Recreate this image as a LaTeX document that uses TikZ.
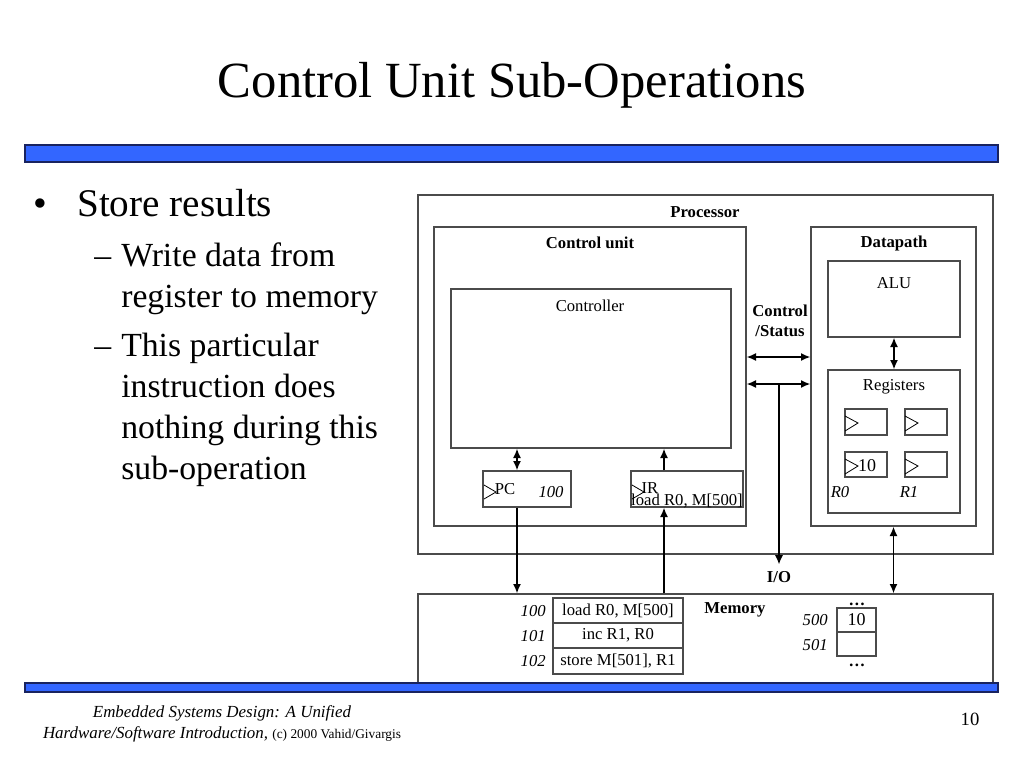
\documentclass[tikz,border=0pt]{standalone}
\usepackage{fontspec}
\setmainfont{Liberation Serif}
\usetikzlibrary{arrows.meta,fit}
\definecolor{barblue}{RGB}{51,102,255}
\definecolor{baredge}{RGB}{25,35,95}
\definecolor{boxgray}{RGB}{75,75,75}
\begin{document}
\begin{tikzpicture}[x=0.75pt,y=-0.75pt,
  box/.style={draw=boxgray, line width=1pt, inner sep=0pt, fit={#1}},
  lbl/.style={font=\fontsize{12.5}{15}\selectfont, inner sep=0pt},
  blbl/.style={font=\fontsize{12.5}{15}\selectfont\bfseries, inner sep=0pt},
  ilbl/.style={font=\fontsize{12.5}{15}\selectfont\itshape, inner sep=0pt},
  dar/.style={{Latex[length=7pt,width=6pt]}-{Latex[length=7pt,width=6pt]}, line width=1.1pt},
  sar/.style={-{Latex[length=7pt,width=6pt]}, line width=1.1pt},
  bar/.style={fill=barblue, draw=baredge, line width=1pt, inner sep=0pt, fit={#1}},
  clk/.style={draw=black, line width=0.6pt},
  big/.style={font=\fontsize{29.4}{30}\selectfont, inner sep=0pt, anchor=base west},
  sub/.style={font=\fontsize{25.3}{26}\selectfont, inner sep=0pt, anchor=base west}
]
\fill[white] (0,0) rectangle (1024,768);
\useasboundingbox (0,0) rectangle (1024,768);

% title
\node[anchor=base, inner sep=0pt, font=\fontsize{38}{40}\selectfont] (title) at (512,97) {Control Unit Sub-Operations};
\node[bar={(25,145) (998,162)}] (topbar) {};

% bullets
\node[big] (bul) at (33,216) {•};
\node[big] (b1) at (77,216) {Store results};
\node[sub] (d1) at (94,266) {–};
\node[sub] (s1) at (121,266) {Write data from};
\node[sub] (s2) at (121,307) {register to memory};
\node[sub] (d2) at (94,356) {–};
\node[sub] (s3) at (121,356) {This particular};
\node[sub] (s4) at (121,397) {instruction does};
\node[sub] (s5) at (121,438) {nothing during this};
\node[sub] (s6) at (121,479) {sub-operation};

% processor
\node[box={(418,195) (993,554)}] (proc) {};
\node[blbl] (procl) at (705,212) {Processor};
\node[box={(434,227) (746,526)}] (cu) {};
\node[blbl] (cul) at (590,243) {Control unit};
\node[box={(451,289) (731,448)}] (ctrl) {};
\node[lbl] (ctrll) at (590,306) {Controller};

\node[box={(483,471) (571,507)}] (pc) {};
\draw[clk] (484,485) -- (496,492) -- (484,499);
\node[lbl] (pcl) at (505,489) {PC};
\node[ilbl] (pcv) at (551,492) {100};

\node[box={(631,471) (743,507)}] (ir) {};
\draw[clk] (632,485) -- (644,492) -- (632,499);
\node[lbl] (irl) at (650,488) {IR};
\node[lbl] (irv) at (687,501) {load R0, M[500]};

% datapath
\node[box={(811,227) (976,526)}] (dp) {};
\node[blbl] (dpl) at (894,243) {Datapath};
\node[box={(828,261) (960,337)}] (alu) {};
\node[lbl] (alul) at (894,283) {ALU};
\node[box={(828,370) (960,513)}] (regs) {};
\node[lbl] (regsl) at (894,387) {Registers};
\node[box={(845,409) (887,435)}] (r00) {};
\node[box={(905,409) (947,435)}] (r01) {};
\node[box={(845,452) (887,477)}] (r10) {};
\node[box={(905,452) (947,477)}] (r11) {};
\draw[clk] (845,416) -- (858,423) -- (845,431);
\draw[clk] (905,416) -- (918,423) -- (905,431);
\draw[clk] (845,459) -- (858,466) -- (845,474);
\draw[clk] (905,459) -- (918,466) -- (905,474);
\node[font=\fontsize{13.5}{15}\selectfont, inner sep=0pt] (r0v) at (867,466) {10};
\node[ilbl] (r0l) at (840,492) {R0};
\node[ilbl] (r1l) at (909,492) {R1};

\node[blbl, align=center] (cs) at (780,321) {Control\\/Status};

% memory
\node[box={(418,594) (993,690)}] (mem) {};
\node[blbl] (meml) at (735,610) {Memory};
\node[box={(553,598) (683,623)}] (m0) {};
\node[box={(553,623) (683,648)}] (m1) {};
\node[box={(553,648) (683,674)}] (m2) {};
\node[lbl] at (m0.center) {load R0, M[500]};
\node[lbl] at (m1.center) {inc R1, R0};
\node[lbl] at (m2.center) {store M[501], R1};
\node[ilbl, anchor=east] (a0) at (546,611) {100};
\node[ilbl, anchor=east] (a1) at (546,636) {101};
\node[ilbl, anchor=east] (a2) at (546,661) {102};
\node[box={(837,608) (876,632)}] (md0) {};
\node[box={(837,632) (876,656)}] (md1) {};
\node[font=\fontsize{13.5}{15}\selectfont, inner sep=0pt] (mdv) at (md0.center) {10};
\node[ilbl, anchor=east] (a500) at (828,620) {500};
\node[ilbl, anchor=east] (a501) at (828,645) {501};
\node[blbl, anchor=base] (dt) at (857,605) {\ldots};
\node[blbl, anchor=base] (db) at (857,666) {\ldots};

% connectors
\coordinate (xa) at (517,0);
\coordinate (xb) at (664,0);
\coordinate (y1) at (0,357);
\coordinate (y2) at (0,384);
\coordinate (iostart) at (779,384);
\node[blbl] (io) at (779,577) {I/O};
\draw[dar] (pc.north -| xa) -- (ctrl.south -| xa);
\draw[sar] (ir.north -| xb) -- (ctrl.south -| xb);
\draw[sar] (pc.south -| xa) -- (mem.north -| xa);
\draw[sar] (mem.north -| xb) -- (ir.south -| xb);
\draw[dar] (cu.east |- y1) -- (dp.west |- y1);
\draw[dar] (cu.east |- y2) -- (dp.west |- y2);
\draw[sar] (iostart) -- ([yshift=5pt]io.north);
\draw[dar] (alu.south) -- (regs.north);
\draw[dar] (dp.south) -- (mem.north -| dp.south);

\node[bar={(25,683) (998,692)}] (botbar) {};

% footer
\node[inner sep=0pt, anchor=base, font=\fontsize{12.7}{15.75}\selectfont\itshape] (f1) at (222,717) {Embedded Systems Design: A Unified};
\node[inner sep=0pt, anchor=base, font=\fontsize{12.7}{15.75}\selectfont] (f2) at (222,738) {\textit{Hardware/Software Introduction,} {\fontsize{10}{12}\selectfont (c) 2000 Vahid/Givargis}};
\node[inner sep=0pt, anchor=base, font=\fontsize{14}{16}\selectfont] (pg) at (970,725) {10};
\end{tikzpicture}
\end{document}
